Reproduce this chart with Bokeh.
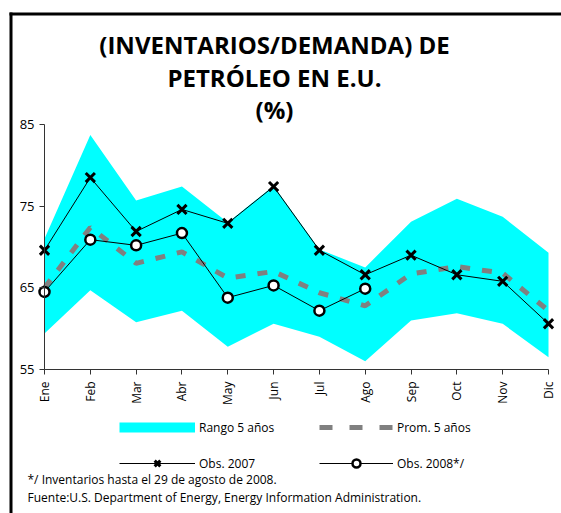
import math
import numpy as np
from bokeh.plotting import figure
from bokeh.models import Range1d, FixedTicker, Legend, LegendItem, Label, BoxAnnotation
from bokeh.embed import file_html
from bokeh.resources import INLINE

months = ["Ene", "Feb", "Mar", "Abr", "May", "Jun", "Jul", "Ago", "Sep", "Oct", "Nov", "Dic"]
rango_max = [71.0, 83.7, 75.7, 77.4, 73.0, 77.5, 69.7, 67.5, 73.1, 75.9, 73.7, 69.3]
rango_min = [59.4, 64.7, 60.8, 62.2, 57.8, 60.6, 59.0, 56.0, 61.0, 61.9, 60.6, 56.5]
prom_5 = [65.0, 72.4, 68.0, 69.4, 66.2, 67.0, 64.4, 62.8, 66.7, 67.6, 66.8, 62.2]
obs_2007 = [69.6, 78.5, 71.9, 74.6, 72.9, 77.4, 69.6, 66.6, 69.0, 66.6, 65.8, 60.6]
obs_2008 = [64.5, 70.9, 70.2, 71.7, 63.8, 65.3, 62.2, 64.9]
y_ticks = [55, 65, 75, 85]

title_lines = ["(INVENTARIOS/DEMANDA) DE", "PETRÓLEO EN E.U.", "(%)"]
nota = "*/ Inventarios hasta el 29 de agosto de 2008."
fuente = "Fuente:U.S. Department of Energy, Energy Information Administration."

FONT = "Open Sans"
W, H = 561, 513
xs = list(range(len(months)))
x08 = xs[:len(obs_2008)]

# pixel layout of the plotting area (frame covers whole canvas)
X0_PX, X1_PX = 44, 548      # Ene .. Dic
YTOP_PX, YBOT_PX = 124, 369  # 85 .. 55
Y_LO, Y_HI = min(y_ticks), max(y_ticks)
sx = (X1_PX - X0_PX) / (len(months) - 1)
sy = (YBOT_PX - YTOP_PX) / (Y_HI - Y_LO)

def px2x(px):
    return (px - X0_PX) / sx

def py2y(py):
    return Y_LO + (YBOT_PX - py) / sy

p = figure(width=W, height=H, output_backend="svg", toolbar_location=None,
           x_range=Range1d(px2x(0), px2x(W)), y_range=Range1d(py2y(H), py2y(0)),
           min_border=0)
p.outline_line_color = None
p.grid.visible = False
p.background_fill_color = "white"
p.border_fill_color = "white"

band = p.varea(x=xs, y1=rango_min, y2=rango_max, fill_color="#00FFFF")
prom = p.line(xs, prom_5, line_color="#808080", line_width=5, line_dash="10 12")
l07 = p.line(xs, obs_2007, line_color="black", line_width=1)
l08 = p.line(x08, obs_2008, line_color="black", line_width=1)
m07 = p.scatter(xs, obs_2007, marker="x", size=13, line_color="black", line_width=3)
m08 = p.scatter(x08, obs_2008, marker="circle", size=10, fill_color="white",
                line_color="black", line_width=2.5)

# legend-only proxies (a single missing point: nothing drawn in the plot)
nan_x = np.array([0.0])
nan_y = np.array([np.nan])
rango_leg = p.line(nan_x, nan_y, line_color="#00FFFF", line_width=10)
prom_leg = p.line(nan_x, nan_y, line_color="#808080", line_width=5, line_dash="13 17")

# axes (drawn at fixed data locations, bounded to the data area)
ya = p.yaxis[0]
ya.fixed_location = 0
ya.bounds = (Y_LO, Y_HI)
ya.ticker = FixedTicker(ticks=y_ticks)
ya.minor_tick_line_color = None
ya.major_tick_in = 0
ya.major_tick_out = 5
ya.major_label_standoff = 5
ya.axis_line_color = "#333333"
ya.major_tick_line_color = "#333333"
ya.major_label_text_font = FONT
ya.major_label_text_font_size = "13px"
ya.major_label_text_color = "black"

xa = p.xaxis[0]
xa.fixed_location = Y_LO
xa.bounds = (0, len(months) - 1)
xa.ticker = FixedTicker(ticks=xs)
xa.major_label_overrides = {i: m for i, m in enumerate(months)}
xa.major_label_orientation = math.pi / 2
xa.minor_tick_line_color = None
xa.major_tick_in = 0
xa.major_tick_out = 5
xa.major_label_standoff = 7
xa.axis_line_color = "#333333"
xa.major_tick_line_color = "#333333"
xa.major_label_text_font = FONT
xa.major_label_text_font_size = "12px"
xa.major_label_text_color = "black"

# title lines
for line, py in zip(title_lines, [44, 77, 109]):
    p.add_layout(Label(x=px2x(274), y=py2y(py), text=line, text_align="center",
                       text_baseline="middle", text_font=FONT,
                       text_font_style="bold", text_font_size="24px",
                       text_color="black"))

# footnotes
for line, py in [(nota, 479), (fuente, 497)]:
    p.add_layout(Label(x=px2x(27), y=py2y(py), text=line, text_align="left",
                       text_baseline="middle", text_font=FONT,
                       text_font_size="12px", text_color="black"))

# legends (two columns)
def mk_legend(items, loc, gw):
    lg = Legend(items=items, location=loc, orientation="vertical",
                glyph_width=gw, glyph_height=20, label_height=20, spacing=16,
                label_standoff=4, padding=0, margin=0,
                border_line_color=None, background_fill_alpha=0,
                label_text_font=FONT, label_text_font_size="12px",
                label_text_color="black")
    p.add_layout(lg)

mk_legend([LegendItem(label="Rango 5 años", renderers=[rango_leg]),
           LegendItem(label="Obs. 2007", renderers=[l07, m07])], (119, H - 473), 76)
mk_legend([LegendItem(label="Prom. 5 años", renderers=[prom_leg]),
           LegendItem(label="Obs. 2008*/", renderers=[l08, m08])], (319, H - 473), 74)

# box border (top and left edges)
p.add_layout(BoxAnnotation(left=px2x(9), right=None, top=py2y(12), bottom=py2y(15),
                           fill_color="black", fill_alpha=1, line_color=None))
p.add_layout(BoxAnnotation(left=px2x(9), right=px2x(12), top=py2y(12), bottom=None,
                           fill_color="black", fill_alpha=1, line_color=None))

open("out.html", "w").write(file_html(p, INLINE))
